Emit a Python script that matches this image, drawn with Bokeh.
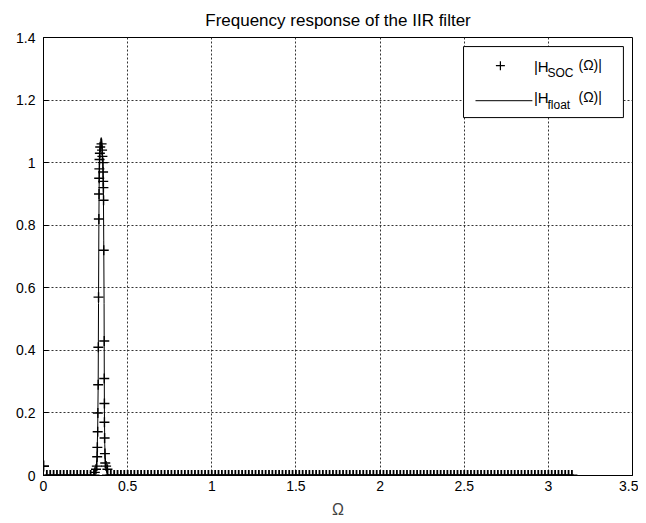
from bokeh.plotting import figure
from bokeh.models import FixedTicker, Range1d, Label
from bokeh.embed import file_html
from bokeh.resources import INLINE

# ---------------- data ----------------
title_text = "Frequency response of the IIR filter"
x_ticks = [0, 0.5, 1, 1.5, 2, 2.5, 3, 3.5]
x_tick_labels = ["0", "0.5", "1", "1.5", "2", "2.5", "3", "3.5"]
y_ticks = [0, 0.2, 0.4, 0.6, 0.8, 1.0, 1.2, 1.4]
y_tick_labels = ["0", "0.2", "0.4", "0.6", "0.8", "1", "1.2", "1.4"]

# |H_float(Omega)| : solid line (flat zero except the narrow pass band)
float_omega = [0.000, 0.300, 0.312, 0.318, 0.322, 0.325, 0.327, 0.329, 0.331, 0.334,
               0.338, 0.343, 0.348, 0.353, 0.356, 0.358, 0.360, 0.361, 0.362, 0.364,
               0.368, 0.375, 0.390, 3.1416]
float_mag = [0.00, 0.00, 0.02, 0.06, 0.15, 0.30, 0.55, 0.80, 0.95, 1.03,
             1.07, 1.08, 1.06, 1.00, 0.90, 0.75, 0.55, 0.35, 0.20, 0.10,
             0.04, 0.01, 0.00, 0.00]

# |H_SOC(Omega)| : '+' markers, pass band samples
soc_peak_omega = [0.317, 0.319, 0.320, 0.322, 0.323, 0.325, 0.326, 0.327, 0.329, 0.330,
                  0.331, 0.332, 0.333, 0.335, 0.337,
                  0.345, 0.348, 0.350, 0.353, 0.354, 0.355, 0.356, 0.357, 0.358, 0.361,
                  0.361, 0.362, 0.362, 0.363, 0.365, 0.367, 0.305, 0.380, 0.312, 0.372]
soc_peak_mag = [0.03, 0.06, 0.09, 0.14, 0.20, 0.29, 0.41, 0.57, 0.82, 0.90,
                0.95, 0.98, 1.01, 1.03, 1.05,
                1.06, 1.04, 1.02, 1.00, 0.97, 0.94, 0.92, 0.88, 0.72, 0.43,
                0.31, 0.23, 0.17, 0.12, 0.07, 0.04, 0.01, 0.02, 0.02, 0.03]

# |H_SOC(Omega)| : '+' markers outside the pass band
soc_base_omega = [
    0.00, 0.02, 0.04, 0.06, 0.08, 0.10, 0.12, 0.14, 0.16, 0.18,
    0.20, 0.22, 0.24, 0.26, 0.28, 0.30,
    0.38, 0.40, 0.42, 0.44, 0.46, 0.48, 0.50, 0.52, 0.54, 0.56, 0.58,
    0.60, 0.62, 0.64, 0.66, 0.68, 0.70, 0.72, 0.74, 0.76, 0.78,
    0.80, 0.82, 0.84, 0.86, 0.88, 0.90, 0.92, 0.94, 0.96, 0.98,
    1.00, 1.02, 1.04, 1.06, 1.08, 1.10, 1.12, 1.14, 1.16, 1.18,
    1.20, 1.22, 1.24, 1.26, 1.28, 1.30, 1.32, 1.34, 1.36, 1.38,
    1.40, 1.42, 1.44, 1.46, 1.48, 1.50, 1.52, 1.54, 1.56, 1.58,
    1.60, 1.62, 1.64, 1.66, 1.68, 1.70, 1.72, 1.74, 1.76, 1.78,
    1.80, 1.82, 1.84, 1.86, 1.88, 1.90, 1.92, 1.94, 1.96, 1.98,
    2.00, 2.02, 2.04, 2.06, 2.08, 2.10, 2.12, 2.14, 2.16, 2.18,
    2.20, 2.22, 2.24, 2.26, 2.28, 2.30, 2.32, 2.34, 2.36, 2.38,
    2.40, 2.42, 2.44, 2.46, 2.48, 2.50, 2.52, 2.54, 2.56, 2.58,
    2.60, 2.62, 2.64, 2.66, 2.68, 2.70, 2.72, 2.74, 2.76, 2.78,
    2.80, 2.82, 2.84, 2.86, 2.88, 2.90, 2.92, 2.94, 2.96, 2.98,
    3.00, 3.02, 3.04, 3.06, 3.08, 3.10, 3.12, 3.14]
soc_base_mag = [0.03] + [0.0] * (len(soc_base_omega) - 1)

FONT = "Liberation Sans"

p = figure(width=638, height=520, output_backend="svg", toolbar_location=None,
           x_range=Range1d(0, 3.5), y_range=Range1d(0, 1.4),
           min_border_left=43, min_border_right=6, min_border_top=37, min_border_bottom=45)

p.title.text = title_text
p.title.align = "center"
p.title.text_font = FONT
p.title.text_font_size = "17px"
p.title.text_font_style = "normal"
p.title.text_color = "black"
p.title.standoff = 15

p.outline_line_color = "black"
p.outline_line_width = 1
p.outline_line_alpha = 1

for ax in (p.xaxis[0], p.yaxis[0]):
    ax.major_tick_in = 5
    ax.major_tick_out = 0
    ax.minor_tick_in = 0
    ax.minor_tick_out = 0
    ax.axis_line_color = "black"
    ax.major_tick_line_color = "black"
    ax.major_label_text_font = FONT
    ax.major_label_text_font_size = "14px"
    ax.major_label_text_color = "black"

p.xaxis[0].ticker = FixedTicker(ticks=x_ticks)
p.yaxis[0].ticker = FixedTicker(ticks=y_ticks)
p.xaxis[0].major_label_overrides = dict(zip(x_ticks, x_tick_labels))
p.yaxis[0].major_label_overrides = dict(zip(y_ticks, y_tick_labels))
p.xaxis[0].major_label_standoff = 5
p.yaxis[0].major_label_standoff = 8
p.xaxis[0].axis_label = "Ω"
p.xaxis[0].axis_label_text_font = FONT
p.xaxis[0].axis_label_text_font_size = "16px"
p.xaxis[0].axis_label_text_font_style = "normal"
p.xaxis[0].axis_label_standoff = 7

p.xgrid.ticker = FixedTicker(ticks=x_ticks)
p.ygrid.ticker = FixedTicker(ticks=y_ticks)
for g in (p.xgrid[0], p.ygrid[0]):
    g.grid_line_color = "#333333"
    g.grid_line_dash = "2 2"
    g.grid_line_width = 1

# data
p.line(float_omega, float_mag, line_color="black", line_width=1)
p.scatter(soc_base_omega, soc_base_mag, marker="cross", size=11, line_color="black",
          line_width=1.8)
p.scatter(soc_peak_omega, soc_peak_mag, marker="cross", size=10, line_color="black",
          line_width=1.4)

# legend (built by hand because of the subscripts)
p.quad(left=[2.496], right=[3.446], top=[1.371], bottom=[1.144],
       fill_color="white", fill_alpha=1, line_color="black", line_width=1)
p.scatter([2.715], [1.310], marker="cross", size=9, line_color="black", line_width=1.2)
p.line([2.567, 2.905], [1.198, 1.198], line_color="black", line_width=1)

def lab(x, y, t, size):
    p.add_layout(Label(x=x, y=y, text=t, text_font=FONT, text_font_size=size,
                       text_baseline="middle", text_align="left", text_color="black"))

lab(2.914, 1.307, "|H", "15px")
lab(2.995, 1.288, "SOC", "12px")
lab(3.179, 1.313, "(Ω)|", "14px")
lab(2.914, 1.208, "|H", "15px")
lab(2.995, 1.185, "float", "12px")
lab(3.179, 1.211, "(Ω)|", "14px")

open("out.html", "w").write(file_html(p, INLINE))
